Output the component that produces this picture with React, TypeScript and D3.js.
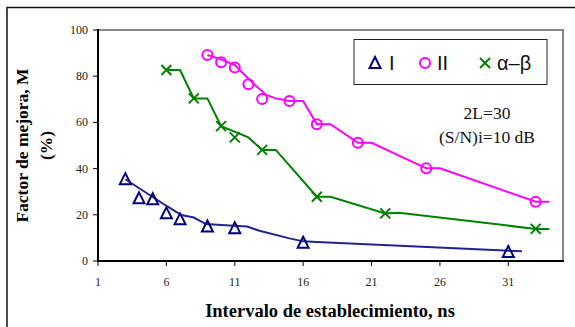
import React from 'react';
import * as d3 from 'd3';

// markers: [x, y]
const seriesI = [[3, 35.4], [4, 27.1], [5, 26.7], [6, 20.6], [7, 18.0], [9, 14.9], [11, 14.2], [16, 7.9], [31, 3.9]];
const seriesII = [[9, 89.2], [10, 86.0], [11, 83.8], [12, 76.5], [13, 70.1], [15, 69.3], [17, 59.2], [20, 51.2], [25, 40.1], [33, 25.7]];
const seriesAB = [[6, 82.7], [8, 70.4], [10, 58.4], [11, 53.5], [13, 48.1], [17, 27.8], [22, 20.6], [33, 13.9]];

// connecting lines (drawn separately, slightly offset from the markers)
const lineI = [[3, 35.4], [6.1, 23.5], [7.1, 19.9], [8, 18.8], [8.9, 16], [10, 15.6], [11.9, 14.9], [12.8, 13.1], [15, 9.8], [16, 8.5], [17, 8.2], [32, 4.2]];
const lineII = [[9, 89.2], [10, 87.3], [11, 84.8], [11.6, 81.3], [12.6, 75.5], [13.3, 71.9], [14, 70.4], [15, 69.3], [16, 69.3], [17, 59.2], [18, 59.2], [20, 51.2], [21, 51.2], [25, 40.1], [26, 40.1], [33, 25.7], [34, 25.7]];
const lineAB = [[6, 82.7], [7, 82.7], [8, 70.4], [9, 70.4], [10, 58.4], [12, 53.5], [13, 48.1], [14, 48.1], [17, 27.8], [18, 27.8], [22, 20.6], [23, 20.9], [33, 13.9], [34, 13.9]];

const xTicks = [1, 6, 11, 16, 21, 26, 31];
const yTicks = [0, 20, 40, 60, 80, 100];

const NAVY = '#000080';
const MAGENTA = '#ff00ff';
const GREEN = '#008000';
const serif = '"Liberation Serif", "Times New Roman", serif';
const sans = '"Liberation Sans", Arial, sans-serif';

const tri = (cx: number, cy: number, s: number) =>
  `M${cx},${cy - s * 0.55} L${cx + s * 0.5},${cy + s * 0.45} L${cx - s * 0.5},${cy + s * 0.45} Z`;
const cross = (cx: number, cy: number, s: number) =>
  `M${cx - s},${cy - s} L${cx + s},${cy + s} M${cx - s},${cy + s} L${cx + s},${cy - s}`;

export default function App() {
  const W = 575, H = 327;
  const left = 98, right = 563, top = 30, bottom = 261;

  const x = d3.scaleLinear().domain([1, 35]).range([left, right]);
  const y = d3.scaleLinear().domain([0, 100]).range([bottom, top]);
  const line = d3.line<number[]>().x(d => x(d[0])).y(d => y(d[1]));

  return (
    <div style={{ position: 'absolute', left: 0, top: 0 }}>
      <svg width={W} height={H} style={{ display: 'block', background: '#fff' }}>
        {/* outer chart frame */}
        <rect x={7} y={7.5} width={620} height={400} fill="none" stroke="#111" strokeWidth={1.5} />

        {/* plot area border */}
        <path d={`M${left},${top} H${right} V${bottom}`} fill="none" stroke="#888" strokeWidth={2} />

        {/* lines */}
        <path d={line(lineI) || ''} fill="none" stroke="#23238f" strokeWidth={2} />
        <path d={line(lineII) || ''} fill="none" stroke={MAGENTA} strokeWidth={2} />
        <path d={line(lineAB) || ''} fill="none" stroke={GREEN} strokeWidth={2} />

        {/* markers */}
        {seriesI.map((d, i) => (
          <path key={'a' + i} d={tri(x(d[0]), y(d[1]), 11)} fill="none" stroke={NAVY} strokeWidth={2} />
        ))}
        {seriesII.map((d, i) => (
          <circle key={'b' + i} cx={x(d[0])} cy={y(d[1])} r={5} fill="none" stroke={MAGENTA} strokeWidth={2} />
        ))}
        {seriesAB.map((d, i) => (
          <path key={'c' + i} d={cross(x(d[0]), y(d[1]), 5)} fill="none" stroke={GREEN} strokeWidth={2} />
        ))}

        {/* axes */}
        <line x1={left} x2={left} y1={top - 1} y2={bottom + 1} stroke="#000" strokeWidth={2} />
        <line x1={left - 1} x2={right + 1} y1={bottom} y2={bottom} stroke="#000" strokeWidth={2} />
        {yTicks.map(t => (
          <g key={'y' + t}>
            <line x1={left - 5} x2={left} y1={y(t)} y2={y(t)} stroke="#000" strokeWidth={1} />
            <text x={left - 10} y={y(t) + 4} textAnchor="end" fontFamily={serif} fontSize={12} fill="#222">{t}</text>
          </g>
        ))}
        {xTicks.map(t => (
          <g key={'x' + t}>
            <line x1={x(t)} x2={x(t)} y1={bottom} y2={bottom + 5} stroke="#000" strokeWidth={1} />
            <text x={x(t)} y={bottom + 25} textAnchor="middle" fontFamily={serif} fontSize={12} fill="#222">{t}</text>
          </g>
        ))}

        {/* axis titles */}
        <text x={330} y={317} textAnchor="middle" fontFamily={serif} fontSize={18.5} fontWeight="bold">
          Intervalo de establecimiento, ns
        </text>
        <g transform={`translate(28,${(top + bottom) / 2}) rotate(-90)`}>
          <text x={0} y={0} textAnchor="middle" fontFamily={serif} fontSize={17.5} fontWeight="bold">Factor de mejora, M</text>
          <text x={0} y={24} textAnchor="middle" fontFamily={serif} fontSize={17.5} fontWeight="bold">(%)</text>
        </g>

        {/* legend */}
        <rect x={354} y={39.5} width={193} height={45} fill="#fff" stroke="#222" strokeWidth={1} />
        <path d={tri(375, 63, 11)} fill="none" stroke={NAVY} strokeWidth={2} />
        <text x={389} y={70} fontFamily={sans} fontSize={20} fill="#111">I</text>
        <circle cx={425} cy={63} r={5} fill="none" stroke={MAGENTA} strokeWidth={2} />
        <text x={437} y={70} fontFamily={sans} fontSize={20} fill="#111">II</text>
        <path d={cross(485, 63, 5)} fill="none" stroke={GREEN} strokeWidth={2} />
        <text x={497} y={70} fontFamily={sans} fontSize={20} fill="#111">α–β</text>

        {/* annotation */}
        <text x={487} y={119} textAnchor="middle" fontFamily={serif} fontSize={17.5} fill="#111">2L=30</text>
        <text x={487} y={143} textAnchor="middle" fontFamily={serif} fontSize={17.5} fill="#111">(S/N)i=10 dB</text>
      </svg>
    </div>
  );
}
